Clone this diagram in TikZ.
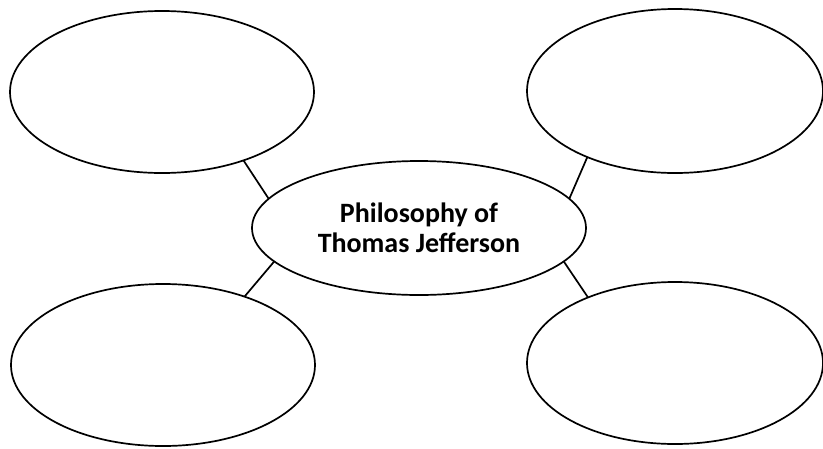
\documentclass[tikz,border=0pt]{standalone}
\usepackage{fontspec}
\setmainfont{Carlito}
\usetikzlibrary{shapes.geometric}
\tikzset{
  bubble/.style={draw=black, line width=1.7pt, ellipse, inner sep=0pt, outer sep=0pt},
  link/.style={draw=black, line width=1.7pt},
}
\begin{document}
\begin{tikzpicture}[x=1pt,y=-1pt]
\useasboundingbox (0,0) rectangle (823,448);
\node[bubble, minimum width=334pt, minimum height=134pt, align=center,
      font=\bfseries\fontsize{28}{30}\selectfont] (c) at (419,228) {Philosophy of\\Thomas Jefferson};
\node[bubble, minimum width=304pt, minimum height=162pt] (tl) at (162,92) {};
\node[bubble, minimum width=296pt, minimum height=164pt] (tr) at (675,91) {};
\node[bubble, minimum width=304pt, minimum height=162pt] (bl) at (163,365) {};
\node[bubble, minimum width=296pt, minimum height=162pt] (br) at (675,363) {};
\draw[link] (c.169) -- (tl.-40);
\draw[link] (c.11) -- (tr.217);
\draw[link] (c.193) -- (bl.40);
\draw[link] (c.-13) -- (br.143);
\end{tikzpicture}
\end{document}
